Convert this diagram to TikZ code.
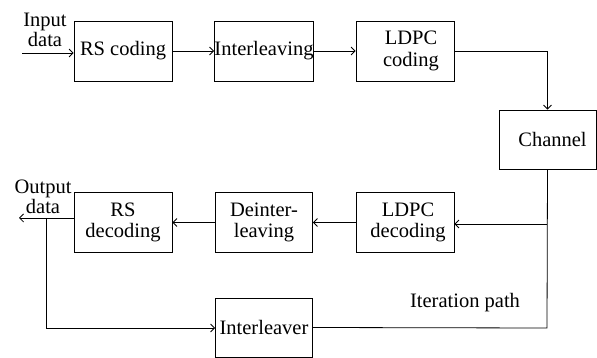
\documentclass[tikz,border=0pt]{standalone}
\usepackage{fontspec}
\setmainfont{Liberation Serif}
\usetikzlibrary{arrows.meta}
\begin{document}
\begin{tikzpicture}[x=1pt,y=-1pt,
  blk/.style={draw,line width=0.8pt,minimum width=98pt,minimum height=60pt,inner sep=0pt,align=center,
    font=\fontsize{20.5}{21.5}\selectfont},
  lbl/.style={align=center,inner sep=0pt,font=\fontsize{20.5}{18}\selectfont},
  arr/.style={line width=0.8pt,-{Straight Barb[length=4pt,width=8pt]}},
  ln/.style={line width=0.8pt}]
\useasboundingbox (0,0) rectangle (597,358);
\node[blk] (rs) at (123,51) {RS coding};
\node[blk,minimum width=97pt] (il) at (264,51) {Interleaving};
\node[blk] (ldpc) at (405,51) {\hspace*{12pt}LDPC\\\hspace*{12pt}coding};
\node[blk,minimum width=97pt,minimum height=59pt] (ch) at (547.5,139.5) {\hspace*{10pt}Channel};
\node[blk] (ldpcd) at (405,222.5) {\hspace*{6pt}LDPC\\\hspace*{6pt}decoding};
\node[blk,minimum width=97pt] (deint) at (264,222.5) {Deinter-\\leaving};
\node[blk] (rsd) at (123,222.5) {RS\\decoding};
\node[blk,minimum width=97pt,minimum height=59pt] (il2) at (264,327.5) {Interleaver};
\node[lbl] (inlbl) at (45,30) {Input\\data};
\node[lbl] (outlbl) at (43,197) {Output\\data};
\node[lbl] (iter) at (465,303) {Iteration path};
\coordinate (in) at (22,53);
\coordinate (out) at (19,218);
\coordinate (br) at (46,218);
\coordinate (cr) at (547,328);
\coordinate (cj) at (547,224);
\draw[arr] (in) -- (in -| rs.west);
\draw[arr] (rs) -- (il);
\draw[arr] (il) -- (ldpc);
\draw[arr] (ldpc.east) -| (ch.north);
\draw[ln] (ch.south) -- (cr) -- (il2.east);
\draw[arr] (cj) -- (cj -| ldpcd.east);
\draw[arr] (ldpcd) -- (deint);
\draw[arr] (deint) -- (rsd);
\draw[arr] (rsd.west |- out) -- (out);
\draw[arr] (br) -- (br |- cr) -- (il2.west |- cr);
\end{tikzpicture}
\end{document}
